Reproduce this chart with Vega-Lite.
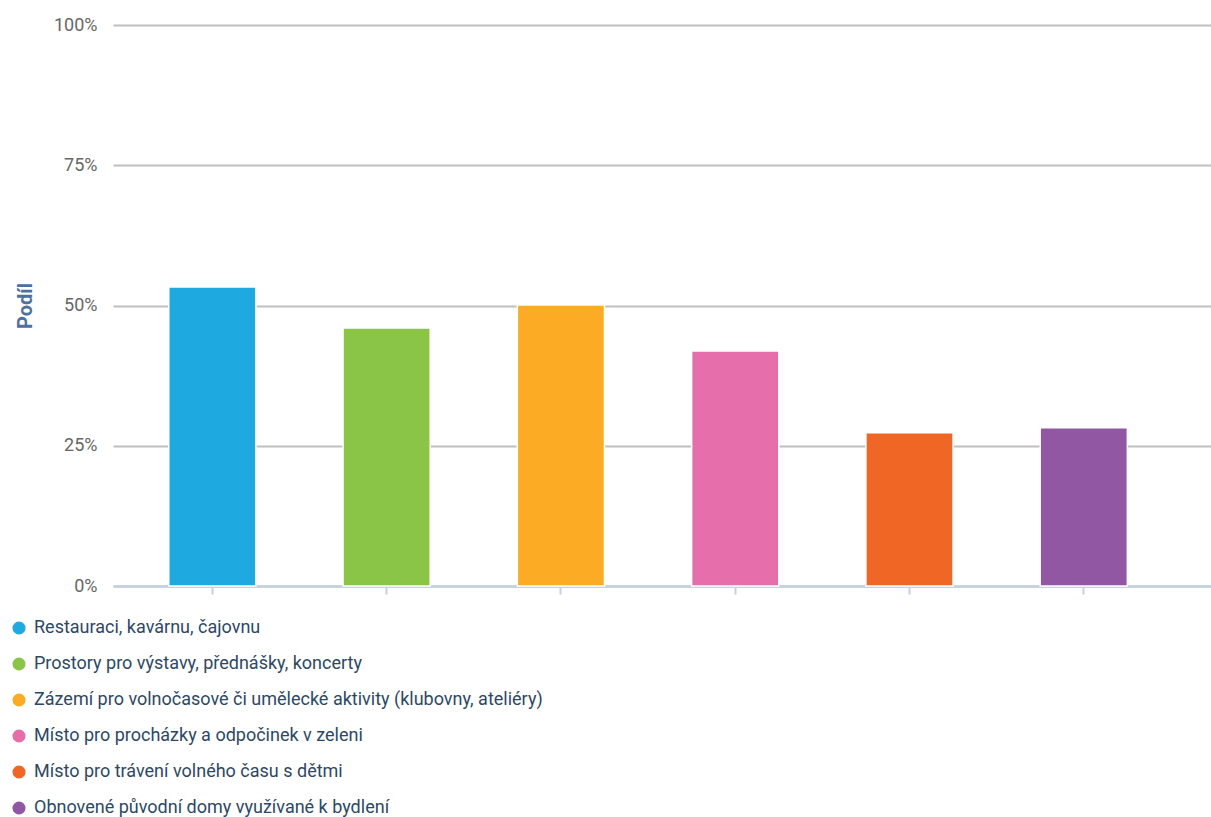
{
  "$schema": "https://vega.github.io/schema/vega-lite/v6.json",
  "autosize": {"type": "none"},
  "padding": {"left": 113, "top": 25, "right": 0, "bottom": 231},
  "width": 1098,
  "height": 561,
  "background": "white",
  "config": {"view": {"stroke": null}, "font": "Roboto, sans-serif"},
  "data": {"values": [
    {"kategorie": "Restauraci, kavárnu, čajovnu", "podil": 53.3},
    {"kategorie": "Prostory pro výstavy, přednášky, koncerty", "podil": 46.0},
    {"kategorie": "Zázemí pro volnočasové či umělecké aktivity (klubovny, ateliéry)", "podil": 50.1},
    {"kategorie": "Místo pro procházky a odpočinek v zeleni", "podil": 41.9},
    {"kategorie": "Místo pro trávení volného času s dětmi", "podil": 27.3},
    {"kategorie": "Obnovené původní domy využívané k bydlení", "podil": 28.2}
  ]},
  "mark": {"type": "bar", "stroke": "white", "strokeWidth": 1.5},
  "encoding": {
    "x": {
      "field": "kategorie", "type": "nominal", "sort": null,
      "scale": {"paddingInner": 0.5, "paddingOuter": 0.4, "align": 0.4},
      "axis": {"title": null, "labels": false, "domainColor": "#c3d1e0", "domainWidth": 2.5, "tickColor": "#c3d1e0", "tickWidth": 2, "tickSize": 8, "grid": false}
    },
    "y": {
      "field": "podil", "type": "quantitative",
      "scale": {"domain": [0, 100], "nice": false},
      "axis": {"title": "Podíl", "values": [0, 25, 50, 75, 100], "labelExpr": "datum.value + '%'", "domain": false, "ticks": false, "labelPadding": 16, "labelFontSize": 18, "labelColor": "#666666", "gridColor": "#bfbfbf", "gridWidth": 2, "titleColor": "#4a72a0", "titleFontSize": 20, "titleFontWeight": "bold", "titlePadding": 18}
    },
    "color": {
      "field": "kategorie", "type": "nominal", "sort": null,
      "scale": {"range": ["#1fa9e1", "#8bc547", "#fbab24", "#e66fab", "#f06624", "#9157a3"]},
      "legend": {"title": null, "orient": "none", "legendX": -103, "legendY": 594, "direction": "vertical", "symbolType": "circle", "symbolSize": 170, "symbolStrokeWidth": 0, "labelFontSize": 18, "labelColor": "#2d4865", "rowPadding": 18, "labelOffset": 6, "labelLimit": 800}
    }
  }
}
